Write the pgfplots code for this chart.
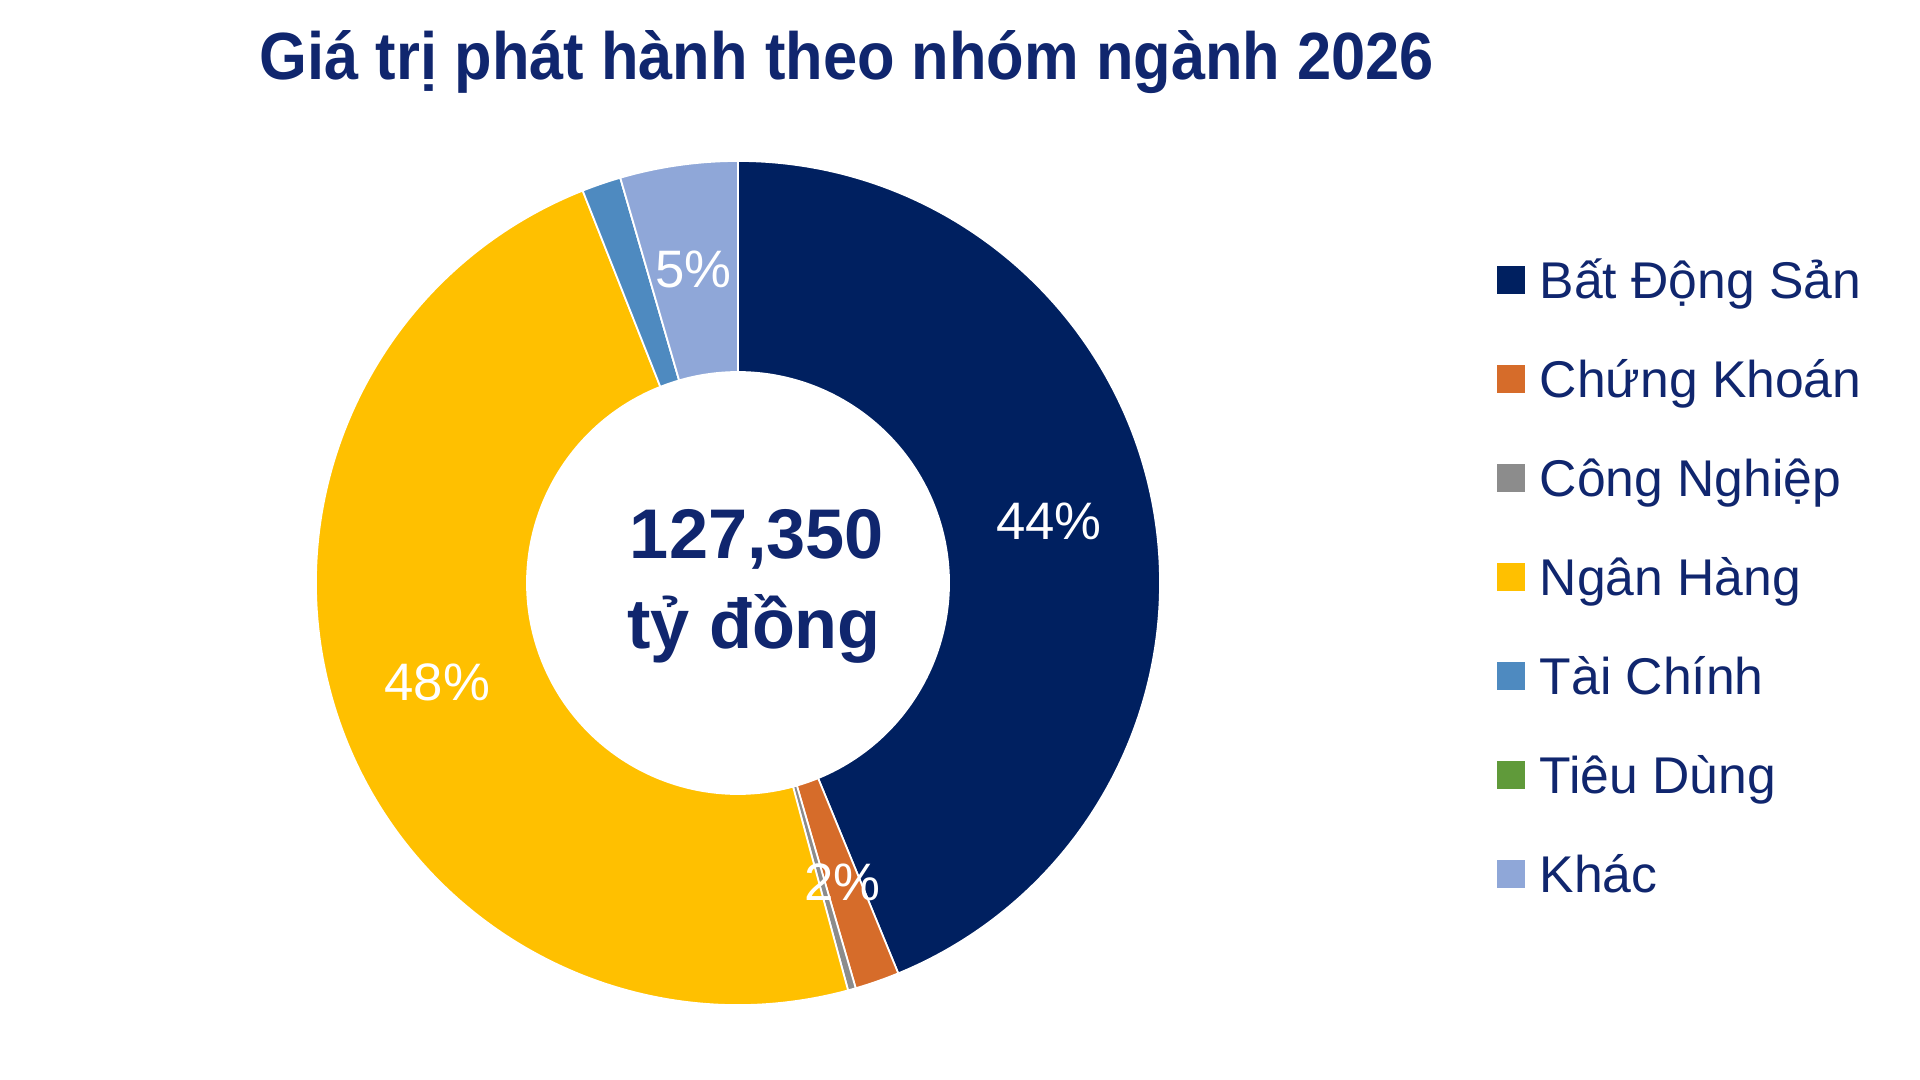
\documentclass[border=0pt]{standalone}
\usepackage{fontspec}
\setmainfont{Liberation Sans}
\usepackage{pgfplots}
\usepackage{pgfplotstable}
\pgfplotsset{compat=1.18}

\definecolor{ink}{RGB}{16,38,110}
\definecolor{c0}{RGB}{0,32,96}
\definecolor{c1}{RGB}{214,108,42}
\definecolor{c2}{RGB}{140,140,140}
\definecolor{c3}{RGB}{255,192,0}
\definecolor{c4}{RGB}{78,138,192}
\definecolor{c5}{RGB}{96,154,58}
\definecolor{c6}{RGB}{143,167,216}

% share of issuance value by sector, in percent
\pgfplotstableread[col sep=comma]{
sector,share
Bất Động Sản,43.8
Chứng Khoán,1.7
Công Nghiệp,0.3
Ngân Hàng,48.2
Tài Chính,1.5
Tiêu Dùng,0.0
Khác,4.5
}\issuance

% ring geometry (1 unit = 0.01cm)
\newcommand\cx{738}
\newcommand\cy{497}
\newcommand\Rout{4.22cm}
\newcommand\Rin{2.11cm}
\newcommand\Rlab{3.17cm}

\newcommand\sector[1]{%
  \fill[c#1, draw=white, line width=0.5pt]
    ([shift={(\csname start#1\endcsname:\Rout)}]axis cs:\cx,\cy)
    arc[start angle=\csname start#1\endcsname, end angle=\csname stop#1\endcsname, radius=\Rout]
    -- ([shift={(\csname stop#1\endcsname:\Rin)}]axis cs:\cx,\cy)
    arc[start angle=\csname stop#1\endcsname, end angle=\csname start#1\endcsname, radius=\Rin]
    -- cycle;}
\newcommand\slicelabel[1]{%
  \node[text=white, font=\fontsize{15}{18}\selectfont]
    at ([shift={(\csname mid#1\endcsname:\Rlab)}]axis cs:\cx,\cy)
    {\pgfmathprintnumber[fixed,precision=0,assume math mode=true]{\csname share#1\endcsname}\%};}

\begin{document}
\begin{tikzpicture}
% start and end angles of every slice, clockwise from the top
\def\cumshare{0}
\pgfplotsforeachungrouped \i in {0,...,6}{%
  \pgfplotstablegetelem{\i}{share}\of\issuance
  \let\v\pgfplotsretval
  \pgfmathsetmacro\s{90-3.6*\cumshare}%
  \pgfmathsetmacro\cumshare{\cumshare+\v}%
  \pgfmathsetmacro\e{90-3.6*\cumshare}%
  \pgfmathsetmacro\m{(\s+\e)/2}%
  \expandafter\xdef\csname start\i\endcsname{\s}%
  \expandafter\xdef\csname stop\i\endcsname{\e}%
  \expandafter\xdef\csname mid\i\endcsname{\m}%
  \expandafter\xdef\csname share\i\endcsname{\v}%
  \pgfplotstablegetelem{\i}{sector}\of\issuance
  \expandafter\xdef\csname name\i\endcsname{\pgfplotsretval}%
}
\begin{axis}[
  hide axis, scale only axis, clip=false,
  width=19.2cm, height=10.8cm,
  xmin=0, xmax=1920, ymin=0, ymax=1080]
\addplot[draw=none] coordinates {(0,0)};

% donut slices
\pgfplotsinvokeforeach{0,...,6}{\sector{#1}}

% percentage labels
\slicelabel{0}
\slicelabel{1}
\slicelabel{3}
\slicelabel{6}

% total in the hole
\node[anchor=base, text=ink, font=\bfseries\fontsize{20}{24}\selectfont]
  at (axis cs:757,521) {127,350};
\node[anchor=base, text=ink, font=\bfseries\fontsize{20}{24}\selectfont]
  at (axis cs:754,431) {tỷ đồng};

% title
\node[anchor=base, text=ink, font=\bfseries\fontsize{19}{23}\selectfont]
  at (axis cs:847,1000) {\scalebox{0.92}[1]{Giá trị phát hành theo nhóm ngành 2026}};

% legend
\pgfplotsinvokeforeach{0,...,6}{%
  \fill[c#1] (axis cs:1497,{800-99*#1-14}) rectangle (axis cs:1525,{800-99*#1+14});
  \node[anchor=base west, text=ink, font=\fontsize{14.7}{18}\selectfont, inner sep=0pt]
    at (axis cs:1539,{800-99*#1-19}) {\csname name#1\endcsname};
}
\end{axis}
\pgfresetboundingbox
\useasboundingbox (0,0) rectangle (19.2cm,10.8cm);
\end{tikzpicture}
\end{document}
